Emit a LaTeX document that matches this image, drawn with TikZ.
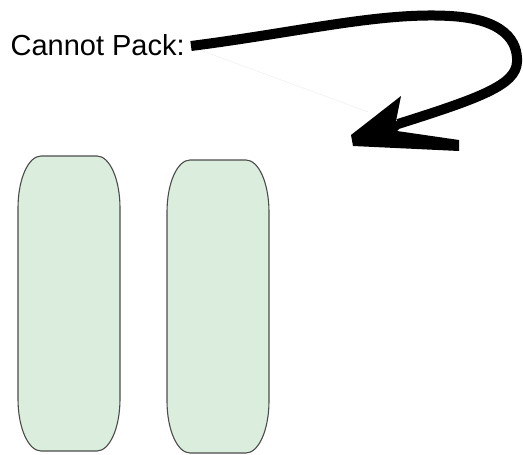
\documentclass[tikz,border=0pt]{standalone}
\usepackage{fontspec}
\setmainfont{Liberation Sans}
\definecolor{pillfill}{RGB}{219,238,221}
\definecolor{pillline}{RGB}{75,75,75}
\tikzset{
  pill/.style={fill=pillfill, draw=pillline, line width=1.1pt},
  shaft/.style={draw=black, line width=10pt, line cap=butt},
  head/.style={fill=black, draw=none},
  label/.style={font=\fontsize{29}{32}\selectfont, inner sep=0pt, anchor=base west}
}
\begin{document}
\begin{tikzpicture}[x=1pt, y=-1pt]
\useasboundingbox (0,0) rectangle (523,455);
% label
\node[label] (lbl) at (10.4,55) {Cannot Pack:};
% faint line
\draw[gray!12, line width=0.6pt] (200,50) -- (368,112);
% arrow shaft
\coordinate (s0) at (191,46);
\coordinate (s1) at (398,124);
\draw[shaft] (s0) .. controls (300,32) and (380,12) .. (450,16)
  .. controls (505,19) and (518,42) .. (517,62)
  .. controls (516,85) and (480,98) .. (s1);
% arrowhead
\fill[head] (351,135) -- (401,96) -- (396,121) -- (404,124) -- (397,131) -- (459,140) -- (459,151) -- (353,146) -- cycle;
% pills
\path[pill] (18,208) .. controls (18,179.3) and (28.3,156) .. (41,156)
  -- (97,156) .. controls (109.7,156) and (120,179.3) .. (120,208)
  -- (120,399) .. controls (120,427.7) and (109.7,451) .. (97,451)
  -- (41,451) .. controls (28.3,451) and (18,427.7) .. (18,399) -- cycle;
\path[pill] (167,212) .. controls (167,183.3) and (177.3,160) .. (190,160)
  -- (246,160) .. controls (258.7,160) and (269,183.3) .. (269,212)
  -- (269,401) .. controls (269,429.7) and (258.7,453) .. (246,453)
  -- (190,453) .. controls (177.3,453) and (167,429.7) .. (167,401) -- cycle;
\end{tikzpicture}
\end{document}
